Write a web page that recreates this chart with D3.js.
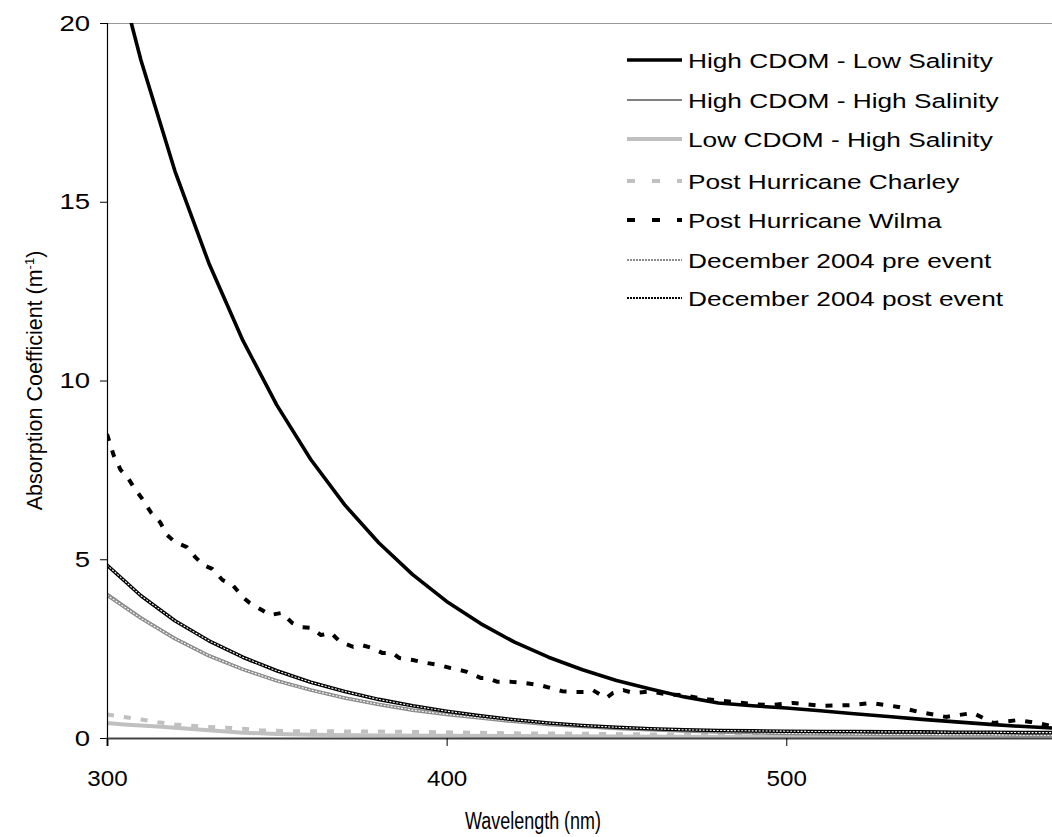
<!DOCTYPE html>
<html><head><meta charset="utf-8">
<script src="https://cdn.jsdelivr.net/npm/d3@7"></script>
<style>
html,body{margin:0;padding:0;background:#fff;}
svg{display:block;}
text{font-family:"Liberation Sans",Arial,sans-serif;fill:#000;}
</style></head>
<body>
<svg id="chart" width="1052" height="837"></svg>
<script>
// ---------- data ----------
const seriesNames = ["High CDOM - Low Salinity","High CDOM - High Salinity","Low CDOM - High Salinity",
  "Post Hurricane Charley","Post Hurricane Wilma","December 2004 pre event","December 2004 post event"];
const wl10 = [300,310,320,330,340,350,360,370,380,390,400,410,420,430,440,450,460,470,480,490,500,510,520,530,540,550,560,570,580];
const highCdomLowSal = [22.6,18.96,15.86,13.28,11.12,9.31,7.79,6.52,5.46,4.57,3.82,3.20,2.68,2.26,1.91,1.61,1.37,1.15,0.98,0.90,0.84,0.76,0.68,0.60,0.52,0.45,0.38,0.32,0.27];
const highCdomHighSal = [4.05,3.38,2.80,2.32,1.93,1.61,1.35,1.13,0.95,0.79,0.67,0.57,0.47,0.39,0.33,0.28,0.24,0.21,0.18,0.16,0.14,0.13,0.12,0.11,0.10,0.10,0.09,0.09,0.08];
const decPost = [4.84,3.98,3.28,2.72,2.26,1.88,1.56,1.30,1.08,0.90,0.75,0.62,0.51,0.42,0.35,0.30,0.26,0.23,0.21,0.20,0.19,0.18,0.18,0.17,0.17,0.16,0.16,0.15,0.15];
const decPre = [4.00,3.35,2.78,2.30,1.92,1.60,1.34,1.12,0.94,0.78,0.66,0.56,0.46,0.38,0.32,0.27,0.23,0.20,0.17,0.15,0.13,0.12,0.11,0.10,0.10,0.09,0.09,0.08,0.08];
const lowCdomWl = [300,305,310,315,320,325,330,335,340,345,350,360,380,400,450,500,580];
const lowCdomHighSal = [0.42,0.38,0.35,0.32,0.29,0.25,0.22,0.18,0.15,0.13,0.11,0.09,0.07,0.06,0.04,0.03,0.02];
const charleyWl = [300,305,310,315,320,325,330,335,340,345,350,355,360,380,400,420,440,460,480,500,540,580];
const charley = [0.66,0.59,0.52,0.44,0.38,0.34,0.31,0.29,0.26,0.22,0.20,0.19,0.19,0.18,0.16,0.13,0.12,0.10,0.08,0.07,0.06,0.05];
const wilmaWl = [300,302,304,306,308,310.6,313,315.6,317.7,320,323.5,326,328.3,331,334,337,340,342,345.6,348,351.5,354.5,357.4,360,363,366,368.6,372.5,375,378,381,384,386,390,394,398,401,404,406,410,412,415,419,423,427.5,430.5,434,437,441,443,447,449,452,455,460,465,470,475,480,485,490,495,502,510,519,525,533,539,547,555,561,568,572,577,580];
const wilma = [8.5,7.9,7.5,7.3,7.0,6.66,6.3,6.04,5.68,5.48,5.34,5.06,4.84,4.73,4.42,4.28,3.94,3.78,3.58,3.44,3.5,3.22,3.1,3.08,2.88,2.94,2.69,2.55,2.6,2.52,2.38,2.38,2.24,2.18,2.1,2.04,1.96,1.9,1.85,1.68,1.68,1.57,1.57,1.54,1.48,1.4,1.31,1.29,1.29,1.34,1.12,1.26,1.34,1.26,1.3,1.22,1.2,1.1,1.05,1.0,0.95,0.92,0.98,0.9,0.92,0.98,0.87,0.73,0.59,0.7,0.42,0.5,0.45,0.36,0.3];
const xTicks = [300,400,500];
const yTicks = [0,5,10,15,20];

// ---------- layout ----------
const svg = d3.select("#chart");
const L = 107, R = 1058, T = 23, B = 738;
const x = d3.scaleLinear().domain([300,580]).range([L,R]);
const y = d3.scaleLinear().domain([0,20]).range([B,T]);

function stretch(sel, f){
  sel.each(function(){
    const w = this.getComputedTextLength();
    d3.select(this).attr("textLength", w*f).attr("lengthAdjust","spacingAndGlyphs");
  });
}

svg.append("defs").append("clipPath").attr("id","clip")
  .append("rect").attr("x",L).attr("y",T).attr("width",R-L).attr("height",B-T);

// top border
svg.append("line").attr("x1",L).attr("x2",1052).attr("y1",T+0.5).attr("y2",T+0.5)
  .attr("stroke","#999").attr("stroke-width",1);

const plot = svg.append("g").attr("clip-path","url(#clip)");
const line = d3.line().x(d=>x(d[0])).y(d=>y(d[1]));
const zip = (a,b)=>a.map((v,i)=>[v,b[i]]);

const styles = [
  {name:seriesNames[0], data:zip(wl10,highCdomLowSal), color:"#000", width:3.6},
  {name:seriesNames[1], data:zip(wl10,highCdomHighSal), color:"#808080", width:2},
  {name:seriesNames[2], data:zip(lowCdomWl,lowCdomHighSal), color:"#c0c0c0", width:4},
  {name:seriesNames[3], data:zip(charleyWl,charley), color:"#c0c0c0", width:4, dash:"7,10"},
  {name:seriesNames[4], data:zip(wilmaWl,wilma), color:"#000", width:4, dash:"7,10"},
  {name:seriesNames[5], data:zip(wl10,decPre), color:"#8c8c8c", width:3.6, hollow:true},
  {name:seriesNames[6], data:zip(wl10,decPost), color:"#000", width:3.6, hollow:true}
];

styles.forEach(s=>{
  plot.append("path").attr("d",line(s.data)).attr("fill","none")
    .attr("stroke",s.color).attr("stroke-width",s.width)
    .attr("stroke-dasharray",s.dash||null).attr("stroke-linejoin","round");
  if(s.hollow){
    plot.append("path").attr("d",line(s.data)).attr("fill","none")
      .attr("stroke","#fff").attr("stroke-width",1.1).attr("stroke-dasharray","2,1.5");
  }
});

// axes
const yAxis = svg.append("g").attr("transform",`translate(${L},0)`)
  .call(d3.axisLeft(y).tickValues(yTicks).tickSize(7).tickPadding(10).tickFormat(d3.format("d")));
yAxis.select(".domain").attr("stroke","#000").attr("stroke-width",1.2);
yAxis.selectAll(".tick line").attr("stroke","#000");
yAxis.selectAll("text").attr("font-size",22).attr("fill","#000")
  .style("font-family","'Liberation Sans',Arial,sans-serif").call(stretch,1.25);

const xAxis = svg.append("g").attr("transform",`translate(0,${B})`)
  .call(d3.axisBottom(x).tickValues(xTicks).tickSize(8).tickPadding(24).tickFormat(d3.format("d")));
xAxis.select(".domain").attr("stroke","#444").attr("stroke-width",2.2);
xAxis.selectAll(".tick line").attr("stroke","#000");
xAxis.selectAll("text").attr("font-size",22).attr("fill","#000")
  .style("font-family","'Liberation Sans',Arial,sans-serif").call(stretch,1.1);

// axis titles
svg.append("text").attr("x",533).attr("y",829).attr("text-anchor","middle")
  .attr("font-size",23).text("Wavelength (nm)").call(stretch,0.78);
const yt = svg.append("text").attr("transform",`translate(42,${(T+B)/2}) rotate(-90)`)
  .attr("text-anchor","middle").attr("font-size",21.5);
yt.append("tspan").text("Absorption Coefficient (m");
yt.append("tspan").attr("font-size",13).attr("dy",-8).text("-1");
yt.append("tspan").attr("dy",8).text(")");

// legend
const legY = [60,100,139,181,220,260,298];
const lg = svg.append("g");
styles.forEach((s,i)=>{
  const yy = legY[i];
  lg.append("line").attr("x1",627).attr("x2",682).attr("y1",yy).attr("y2",yy)
    .attr("stroke",s.color).attr("stroke-width",s.hollow?2:s.width)
    .attr("stroke-dasharray",s.dash?"8,17":(s.hollow?"2,1":null));
  lg.append("text").attr("x",688).attr("y",yy+7.5).attr("font-size",20.5).text(s.name).call(stretch,1.28);
});
</script>
</body></html>
